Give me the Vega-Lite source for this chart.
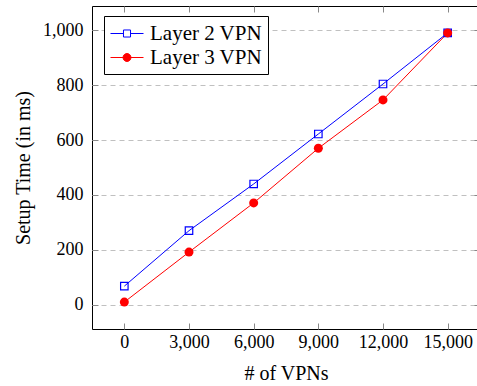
{
  "$schema": "https://vega.github.io/schema/vega-lite/v6.json",
  "width": 388,
  "height": 323,
  "autosize": "none",
  "padding": {"left": 92, "top": 6, "right": 0, "bottom": 57},
  "config": {
    "font": "Liberation Serif, Times New Roman, serif",
    "view": {"stroke": "#000", "strokeWidth": 1},
    "axis": {"labelColor": "#000", "titleColor": "#000", "titleFontWeight": "normal", "labelFont": "Liberation Serif, serif", "titleFont": "Liberation Serif, serif", "labelFontSize": 18, "titleFontSize": 20, "tickColor": "#888", "tickWidth": 1, "domain": false},
    "legend": {"labelFont": "Liberation Serif, serif"}
  },
  "data": {
    "values": [
      {"series": "Layer 2 VPN", "vpns": 0, "time": 68},
      {"series": "Layer 2 VPN", "vpns": 3000, "time": 270},
      {"series": "Layer 2 VPN", "vpns": 6000, "time": 440},
      {"series": "Layer 2 VPN", "vpns": 9000, "time": 622},
      {"series": "Layer 2 VPN", "vpns": 12000, "time": 804},
      {"series": "Layer 2 VPN", "vpns": 15000, "time": 990},
      {"series": "Layer 3 VPN", "vpns": 0, "time": 10},
      {"series": "Layer 3 VPN", "vpns": 3000, "time": 192},
      {"series": "Layer 3 VPN", "vpns": 6000, "time": 371},
      {"series": "Layer 3 VPN", "vpns": 9000, "time": 570},
      {"series": "Layer 3 VPN", "vpns": 12000, "time": 746},
      {"series": "Layer 3 VPN", "vpns": 15000, "time": 990}
    ]
  },
  "layer": [
    {
      "mark": {"type": "line", "strokeWidth": 1},
      "encoding": {
        "x": {"field": "vpns", "type": "quantitative", "scale": {"domain": [-1500, 16500], "nice": false, "zero": false},
          "axis": {"orient": "bottom", "values": [0, 3000, 6000, 9000, 12000, 15000], "format": ",.0f", "title": "# of VPNs", "grid": false, "tickSize": -6, "labelPadding": 10, "titlePadding": 12}},
        "y": {"field": "time", "type": "quantitative", "scale": {"domain": [-88, 1088], "nice": false, "zero": false},
          "axis": {"orient": "left", "values": [0, 200, 400, 600, 800, 1000], "format": ",.0f", "title": "Setup Time (in ms)", "grid": true, "gridDash": [5, 4], "gridColor": "#c0c0c0", "gridWidth": 1, "tickSize": -6, "labelPadding": 15, "titlePadding": 9}},
        "color": {"field": "series", "type": "nominal", "scale": {"domain": ["Layer 2 VPN", "Layer 3 VPN"], "range": ["#0000ff", "#ff0000"]},
          "legend": {"title": null, "orient": "none", "legendX": 12, "legendY": 10, "strokeColor": "#000", "fillColor": "#fff", "padding": 6, "symbolSize": 484, "labelFontSize": 21, "labelOffset": 17, "rowPadding": 2, "labelColor": "#000", "labelFont": "Liberation Serif, serif",
            "encode": {"symbols": {"update": {
              "shape": {"signal": "datum.value === 'Layer 2 VPN' ? 'M-1,0H0.18M0.82,0H2M0.18,-0.32H0.82V0.32H0.18Z' : 'M-1,0H2M0.86,0A0.36,0.36 0 1 1 0.14,0A0.36,0.36 0 1 1 0.86,0Z'"},
              "stroke": {"signal": "datum.value === 'Layer 2 VPN' ? '#0000ff' : '#ff0000'"},
              "fill": {"signal": "datum.value === 'Layer 2 VPN' ? 'transparent' : '#ff0000'"},
              "strokeWidth": {"value": 1},
              "opacity": {"value": 1}
            }}}}}
      }
    },
    {
      "transform": [{"filter": "datum.series === 'Layer 2 VPN'"}],
      "mark": {"type": "point", "shape": "square", "opacity": 1, "strokeWidth": 1.2, "size": 56, "color": "#0000ff", "filled": false},
      "encoding": {
        "x": {"field": "vpns", "type": "quantitative",
          "axis": {"orient": "top", "values": [0, 3000, 6000, 9000, 12000, 15000], "labels": false, "title": null, "grid": false, "tickSize": -6}},
        "y": {"field": "time", "type": "quantitative",
          "axis": {"orient": "right", "values": [0, 200, 400, 600, 800, 1000], "labels": false, "title": null, "grid": false, "tickSize": -6}}
      }
    },
    {
      "transform": [{"filter": "datum.series === 'Layer 3 VPN'"}],
      "mark": {"type": "point", "shape": "circle", "opacity": 1, "size": 81, "color": "#ff0000", "filled": true},
      "encoding": {
        "x": {"field": "vpns", "type": "quantitative", "axis": null},
        "y": {"field": "time", "type": "quantitative", "axis": null}
      }
    }
  ],
  "resolve": {"axis": {"x": "independent", "y": "independent"}}
}
